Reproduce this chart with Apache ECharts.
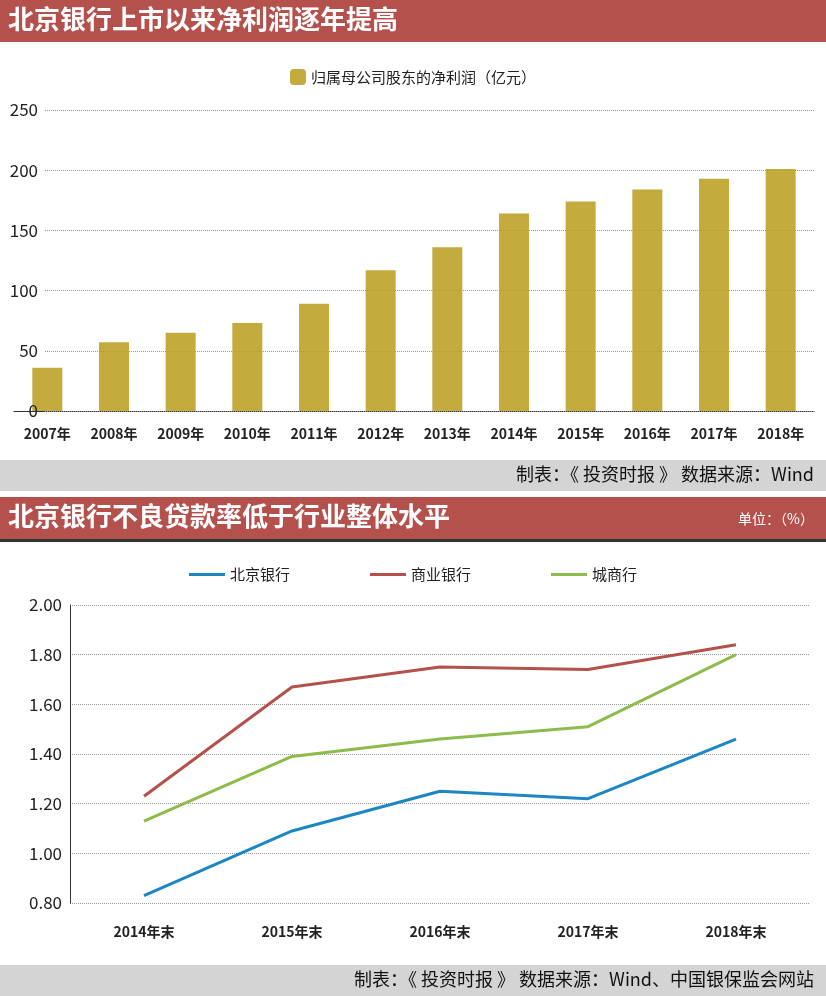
<!DOCTYPE html><html><head><meta charset="utf-8"><script src="https://cdn.jsdelivr.net/npm/echarts@6/dist/echarts.min.js"></script>
<style>body{margin:0}#c{width:826px;height:996px}</style></head><body><div id="c"></div><script>
const years=['2007年','2008年','2009年','2010年','2011年','2012年','2013年','2014年','2015年','2016年','2017年','2018年'];
const profit=[36,57,65,73,89,117,136,164,174,184,193,201];
const periods=['2014年末','2015年末','2016年末','2017年末','2018年末'];
const bob=[0.83,1.09,1.25,1.22,1.46];
const commercial=[1.23,1.67,1.75,1.74,1.84];
const cityBanks=[1.13,1.39,1.46,1.51,1.80];
const F='Noto Sans CJK SC';
const ch=echarts.init(document.getElementById('c'));
const hdr=(y,t)=>[{type:'rect',shape:{x:0,y:y,width:826,height:42},style:{fill:'#b5514c'}},
{type:'text',left:8,top:y+6,style:{text:t,fill:'#fff',font:'bold 26px "Noto Sans CJK SC"'}}];
const ftr=(y,t)=>[{type:'rect',shape:{x:0,y:y,width:826,height:31},style:{fill:'#d4d4d4'}},
{type:'text',right:12,top:y+5,style:{text:t,fill:'#111',font:'18px "Noto Sans CJK SC"'}}];
ch.setOption({
graphic:[...hdr(0,'北京银行上市以来净利润逐年提高'),...ftr(460,'制表：《 投资时报 》 数据来源：Wind'),...hdr(497,'北京银行不良贷款率低于行业整体水平'),
{type:'text',right:12,top:512,style:{text:'单位：（%）',fill:'#fff',font:'14px "Noto Sans CJK SC"'}},
{type:'rect',shape:{x:0,y:539,width:826,height:3},style:{fill:'#333'}},
...ftr(965,'制表：《 投资时报 》 数据来源：Wind、中国银保监会网站')],
legend:[{top:64,left:'center',data:['归属母公司股东的净利润（亿元）'],itemWidth:16,itemHeight:16,textStyle:{fontFamily:F,fontSize:15,color:'#222'}},
{top:562,left:'center',itemGap:80,data:['北京银行','商业银行','城商行'],icon:'rect',itemWidth:36,itemHeight:3,textStyle:{fontFamily:F,fontSize:15,color:'#222'}}],
grid:[{left:45,right:12,top:110,bottom:585,outerBoundsMode:'none'},{left:14,right:12,top:110,bottom:585,outerBoundsMode:'none'},{left:70,right:16,top:605,bottom:93,outerBoundsMode:'none'}],
xAxis:[{gridIndex:0,type:'value',show:false,min:0,max:1},
{gridIndex:1,type:'category',data:years,axisTick:{show:false},axisLine:{lineStyle:{color:'#333'}},axisLabel:{fontFamily:F,fontWeight:'bold',fontSize:14,color:'#222',margin:16}},
{gridIndex:2,type:'category',data:periods,axisTick:{show:false},axisLine:{show:false},axisLabel:{fontFamily:F,fontWeight:'bold',fontSize:14,color:'#222',margin:22}}],
yAxis:[{gridIndex:0,z:10,min:0,max:250,interval:50,axisLine:{show:false},axisTick:{show:false},axisLabel:{margin:7,fontFamily:F,fontSize:17,color:'#222'},splitLine:{lineStyle:{color:'#999',type:'dotted'}}},
{gridIndex:1,min:0,max:250,interval:50,show:false,splitLine:{show:false}},
{gridIndex:2,min:0.8,max:2.0,interval:0.2,axisLabel:{formatter:v=>v.toFixed(2),fontFamily:F,fontSize:17,color:'#222',margin:8},axisLine:{show:true,lineStyle:{color:'#333'}},splitLine:{lineStyle:{color:'#999',type:'dotted'}}}],
series:[{name:'归属母公司股东的净利润（亿元）',type:'bar',xAxisIndex:1,yAxisIndex:1,data:profit,barWidth:30,itemStyle:{color:'#c4ab3e'}},
{name:'北京银行',type:'line',xAxisIndex:2,yAxisIndex:2,data:bob,symbol:'none',lineStyle:{width:3,color:'#1c86c3'},itemStyle:{color:'#1c86c3'}},
{name:'商业银行',type:'line',xAxisIndex:2,yAxisIndex:2,data:commercial,symbol:'none',lineStyle:{width:3,color:'#b5514c'},itemStyle:{color:'#b5514c'}},
{name:'城商行',type:'line',xAxisIndex:2,yAxisIndex:2,data:cityBanks,symbol:'none',lineStyle:{width:3,color:'#8dbb4c'},itemStyle:{color:'#8dbb4c'}}]
});
</script></body></html>
